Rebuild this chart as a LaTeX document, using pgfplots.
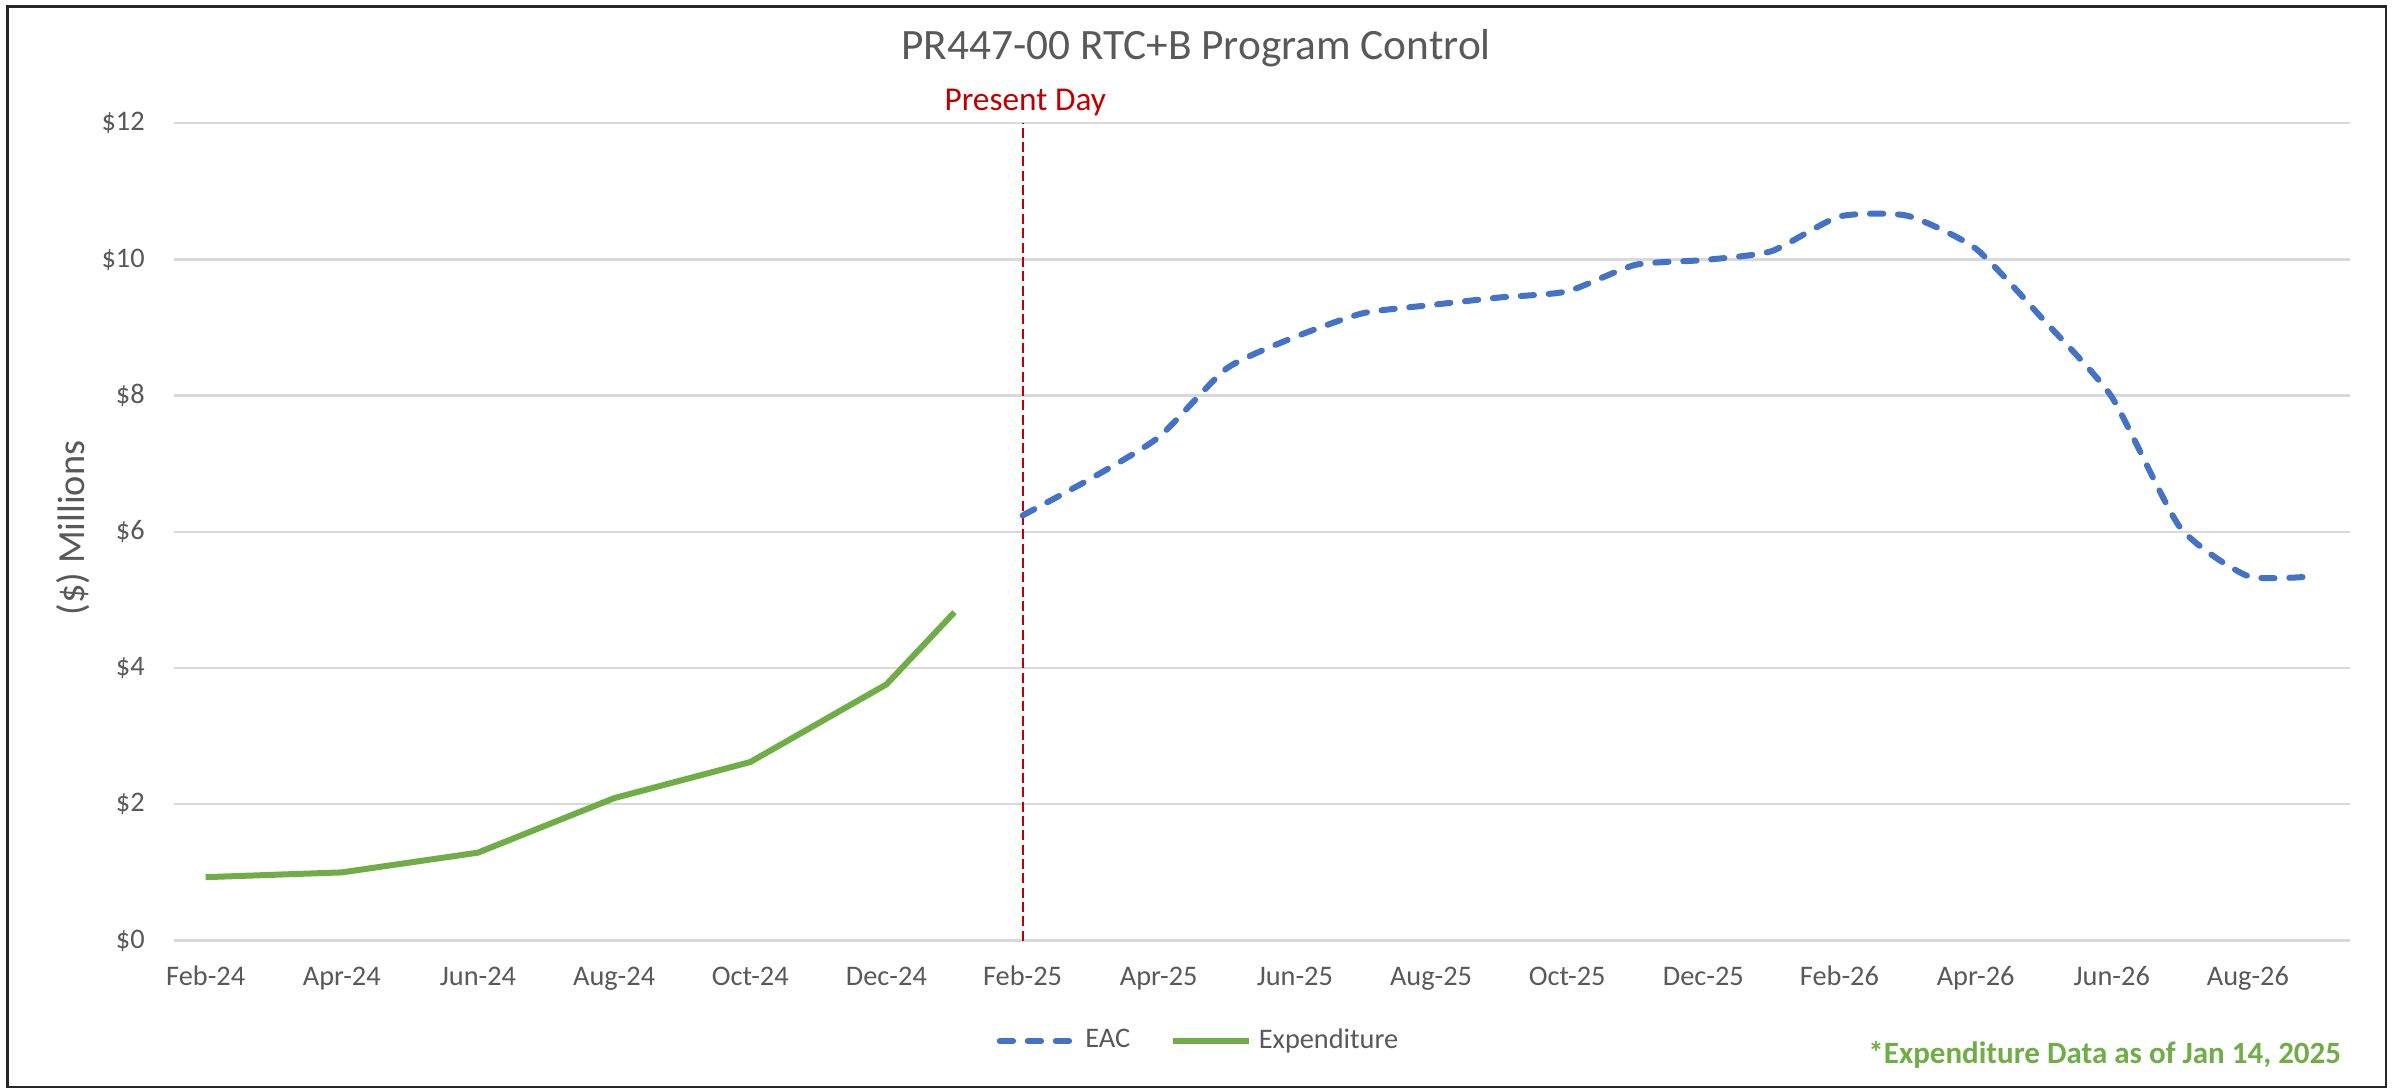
\documentclass[border=0pt]{standalone}
\usepackage{pgfplots}
\pgfplotsset{compat=1.18}
\usepackage{fontspec}
\setmainfont{Carlito}
\definecolor{txtgray}{HTML}{595959}
\definecolor{eacblue}{HTML}{4472C4}
\definecolor{expgreen}{HTML}{70AD47}
\definecolor{gridgray}{HTML}{D9D9D9}
\definecolor{pdred}{HTML}{C00000}
\begin{document}
\begin{tikzpicture}
\useasboundingbox (0,0) rectangle (719.7pt,327pt);
\fill[white] (0,0) rectangle (719.7pt,327pt);
\draw[line width=0.8pt, black!85] (2.3pt,0.9pt) rectangle (715.8pt,325.1pt);
\node[anchor=base, font=\fontsize{13}{15}\selectfont, text=txtgray] at (358.8pt,309.1pt) {PR447-00 RTC+B Program Control};
\node[rotate=90, font=\fontsize{11.5}{13}\selectfont, text=txtgray] at (21.9pt,168.6pt) {(\$) Millions};
\node[anchor=base east, font=\bfseries\fontsize{9.3}{11}\selectfont, text=expgreen, inner sep=0pt] at (702.5pt,8.1pt) {*Expenditure Data as of Jan 14, 2025};
\begin{axis}[
  at={(52.3pt,44.85pt)}, anchor=south west,
  scale only axis, width=652.7pt, height=245.2pt,
  xmin=-0.46, xmax=31.5, ymin=0, ymax=12,
  xtick={0,2,...,30},
  xticklabels={Feb-24,Apr-24,Jun-24,Aug-24,Oct-24,Dec-24,Feb-25,Apr-25,Jun-25,Aug-25,Oct-25,Dec-25,Feb-26,Apr-26,Jun-26,Aug-26},
  ytick={0,2,...,12},
  yticklabels={\$0,\$2,\$4,\$6,\$8,\$10,\$12},
  axis line style={draw=none},
  major tick length=0pt,
  ymajorgrids, grid style={gridgray, line width=0.7pt},
  tick label style={font=\fontsize{8.5}{10}\selectfont, text=txtgray},
  xticklabel style={anchor=base, yshift=-13.6pt, inner sep=0pt},
  yticklabel style={anchor=east, inner sep=0pt, xshift=-8.7pt},
  clip=false,
  legend style={at={(0.4718,-0.123)}, anchor=center, draw=none, fill=none,
    font=\fontsize{8.5}{10}\selectfont, text=txtgray,
    /tikz/every even column/.append style={column sep=10pt}},
  legend columns=2,
  legend image code/.code={\draw[#1] (0pt,0pt) -- (22.8pt,0pt);},
]
\draw[pdred, line width=0.6pt, dash pattern=on 3pt off 1.3pt] (axis cs:12,0) -- (axis cs:12,12);
\node[anchor=base, text=pdred, font=\fontsize{10}{12}\selectfont, inner sep=0pt] at (axis cs:12.04,12) [yshift=3.8pt] {Present Day};
\addplot[eacblue, line width=1.8pt, line cap=round, dash pattern=on 4pt off 4.4pt, smooth, tension=0.35] coordinates {
(12,6.24) (13,6.78) (14,7.39) (15,8.40) (16,8.86) (17,9.21) (18,9.33) (19,9.44) (20,9.53) (21,9.92) (22,9.99) (23,10.12) (24,10.63) (25,10.64) (26,10.16) (27,9.11) (28,7.98) (29,6.07) (30,5.35) (31,5.35)
};
\addlegendentry{EAC}
\addplot[expgreen, line width=1.8pt, line join=round] coordinates {
(0,0.93) (2,1.00) (4,1.29) (6,2.09) (8,2.62) (10,3.76) (11,4.82)
};
\addlegendentry{Expenditure}
\end{axis}
\end{tikzpicture}
\end{document}
